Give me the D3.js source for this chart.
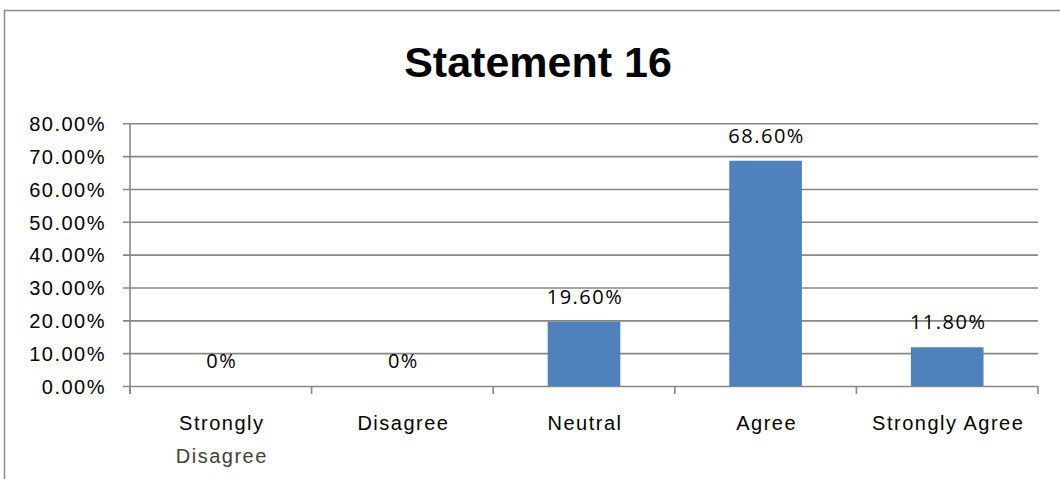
<!DOCTYPE html>
<html>
<head>
<meta charset="utf-8">
<script src="https://cdn.jsdelivr.net/npm/d3@7"></script>
<style>
  html, body { margin: 0; padding: 0; background: #fff; }
  svg { display: block; font-family: "Open Sans", "Liberation Sans", sans-serif; }
  .axis path { display: none; }
  .grid line { stroke: #878787; stroke-width: 1.6; }
  .ylab text, .val, .xlab text { font-size: 20px; fill: #000; letter-spacing: 1.5px; }
</style>
</head>
<body>
<div id="chart"></div>
<script>
// chart data
const categories = ['Strongly Disagree', 'Disagree', 'Neutral', 'Agree', 'Strongly Agree'];
const shares = [0, 0, 0.196, 0.686, 0.118];
const yTicks = [0, 0.1, 0.2, 0.3, 0.4, 0.5, 0.6, 0.7, 0.8];
const title = 'Statement 16';

const width = 1060, height = 479;
const plot = { left: 130, right: 1038, top: 123.3, bottom: 386 };

const svg = d3.select('#chart').append('svg')
  .attr('width', width).attr('height', height);

// outer frame (right/bottom edges fall outside the picture)
svg.append('rect')
  .attr('x', 4.5).attr('y', 10.5)
  .attr('width', 1100).attr('height', 600)
  .attr('fill', '#fff').attr('stroke', '#8c8c8c').attr('stroke-width', 1.5);

svg.append('text')
  .attr('x', 538).attr('y', 77)
  .attr('text-anchor', 'middle')
  .attr('font-family', '"Liberation Sans", Arial, sans-serif')
  .attr('font-weight', 'bold')
  .attr('font-size', 43)
  .attr('fill', '#000')
  .text(title);

const x = d3.scaleBand()
  .domain(categories)
  .range([plot.left, plot.right])
  .paddingInner(0.6)
  .paddingOuter(0.3);

const y = d3.scaleLinear()
  .domain([0, 0.8])
  .range([plot.bottom, plot.top]);

// gridlines, with the small tick stub left of the axis
svg.append('g')
  .attr('class', 'axis grid')
  .attr('transform', `translate(${plot.left},0)`)
  .call(d3.axisLeft(y).tickValues(yTicks).tickSizeOuter(0).tickFormat(''))
  .selectAll('line')
  .attr('x1', -7).attr('x2', plot.right - plot.left);

svg.append('g')
  .attr('class', 'axis ylab')
  .attr('transform', `translate(106,0)`)
  .call(d3.axisLeft(y).tickValues(yTicks).tickSize(0).tickPadding(0).tickFormat(d3.format('.2%')))
  .selectAll('text').attr('dy', '0.36em');

// y axis line
svg.append('line')
  .attr('x1', plot.left).attr('x2', plot.left)
  .attr('y1', y(0.8)).attr('y2', plot.bottom + 8)
  .attr('stroke', '#878787').attr('stroke-width', 1.6);

// category boundary ticks
const gap = (x.step() - x.bandwidth()) / 2;
const bounds = categories.map(c => x(c) - gap)
  .concat([x(categories[categories.length - 1]) + x.bandwidth() + gap]);
svg.append('g').selectAll('line')
  .data(bounds)
  .join('line')
  .attr('x1', d => d).attr('x2', d => d)
  .attr('y1', plot.bottom).attr('y2', plot.bottom + 8)
  .attr('stroke', '#878787').attr('stroke-width', 1.6);

const rows = categories.map((c, i) => ({ c, v: shares[i] }));

// bars
svg.append('g').selectAll('rect')
  .data(rows)
  .join('rect')
  .attr('x', d => x(d.c))
  .attr('y', d => y(d.v))
  .attr('width', x.bandwidth())
  .attr('height', d => plot.bottom - y(d.v))
  .attr('fill', '#4f81bd');

// value labels
svg.append('g').selectAll('text')
  .data(rows)
  .join('text')
  .attr('class', 'val')
  .attr('x', d => x(d.c) + x.bandwidth() / 2 + 1)
  .attr('y', d => y(d.v) - 18)
  .attr('text-anchor', 'middle')
  .text(d => d.v === 0 ? '0%' : (d.v * 100).toFixed(2) + '%');

// category labels (wrapped)
const xl = svg.append('g')
  .attr('class', 'axis xlab')
  .attr('transform', `translate(1,${plot.bottom})`)
  .call(d3.axisBottom(x).tickSize(0).tickPadding(0));
xl.selectAll('text').each(function(d){
  const t = d3.select(this);
  const words = d.split(' ');
  t.text(null).attr('dy', 0);
  let line = [], lines = [];
  words.forEach(w => {
    const test = line.concat(w).join(' ');
    if (line.length && test.length > 14) { lines.push(line.join(' ')); line = [w]; }
    else line.push(w);
  });
  lines.push(line.join(' '));
  lines.forEach((s, i) => {
    t.append('tspan').attr('x', 0).attr('y', 44 + i * 33)
      .attr('fill', i > 0 ? '#404040' : '#000')
      .text(s);
  });
});
</script>
</body>
</html>
